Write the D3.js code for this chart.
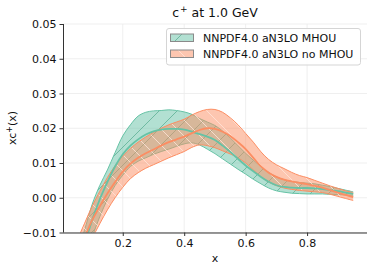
<!DOCTYPE html>
<html><head><meta charset="utf-8">
<script src="https://cdn.jsdelivr.net/npm/d3@7"></script>
<style>body{margin:0;background:#fff} svg{display:block;font-family:"DejaVu Sans",sans-serif}</style>
</head><body><svg id="c" width="374" height="272"></svg>
<script>
const xs = [0.05,0.075,0.10,0.125,0.15,0.175,0.20,0.225,0.25,0.275,0.30,0.325,0.35,0.375,0.40,0.425,0.45,0.475,0.50,0.525,0.55,0.575,0.60,0.625,0.65,0.675,0.70,0.725,0.75,0.775,0.80,0.825,0.85,0.875,0.90,0.925,0.95];
const mhouCentral = [-0.0200,-0.0135,-0.0065,-0.0005,0.0045,0.0090,0.0125,0.0150,0.0168,0.0182,0.0191,0.0196,0.0198,0.0198,0.0196,0.0190,0.0183,0.0176,0.0166,0.0150,0.0132,0.0112,0.0093,0.0076,0.0060,0.0046,0.0036,0.0031,0.0029,0.0028,0.0028,0.0027,0.0025,0.0022,0.0019,0.0015,0.0011];
const mhouLower = [-0.0260,-0.0190,-0.0115,-0.0055,-0.0005,0.0035,0.0065,0.0090,0.0105,0.0115,0.0125,0.0133,0.0140,0.0148,0.0155,0.0158,0.0152,0.0140,0.0127,0.0112,0.0097,0.0082,0.0068,0.0053,0.0040,0.0028,0.0020,0.0016,0.0013,0.0012,0.0011,0.0011,0.0011,0.0010,0.0009,0.0008,0.0005];
const mhouUpper = [-0.0160,-0.0095,-0.0020,0.0035,0.0080,0.0130,0.0178,0.0210,0.0235,0.0246,0.0250,0.0251,0.0253,0.0251,0.0247,0.0240,0.0228,0.0218,0.0208,0.0192,0.0172,0.0150,0.0128,0.0108,0.0090,0.0073,0.0060,0.0052,0.0047,0.0044,0.0042,0.0040,0.0036,0.0032,0.0027,0.0022,0.0017];
const noMhouCentral = [-0.0160,-0.0115,-0.0065,-0.0025,0.0012,0.0045,0.0075,0.0098,0.0115,0.0128,0.0139,0.0150,0.0160,0.0168,0.0176,0.0186,0.0195,0.0200,0.0198,0.0190,0.0178,0.0160,0.0140,0.0115,0.0090,0.0072,0.0060,0.0052,0.0047,0.0043,0.0039,0.0034,0.0029,0.0022,0.0015,0.0008,0.0002];
const noMhouLower = [-0.0210,-0.0165,-0.0118,-0.0075,-0.0035,0.0000,0.0030,0.0055,0.0072,0.0085,0.0095,0.0105,0.0115,0.0124,0.0133,0.0145,0.0152,0.0150,0.0144,0.0135,0.0126,0.0115,0.0100,0.0080,0.0060,0.0045,0.0035,0.0028,0.0024,0.0021,0.0019,0.0017,0.0015,0.0010,0.0004,-0.0002,-0.0008];
const noMhouUpper = [-0.0125,-0.0075,-0.0025,0.0018,0.0058,0.0092,0.0120,0.0142,0.0160,0.0175,0.0188,0.0200,0.0210,0.0218,0.0226,0.0238,0.0248,0.0254,0.0254,0.0246,0.0230,0.0210,0.0185,0.0160,0.0132,0.0110,0.0095,0.0084,0.0073,0.0064,0.0058,0.0050,0.0042,0.0034,0.0027,0.0020,0.0015];
const xTicks = [0.2,0.4,0.6,0.8];
const yTicks = [-0.01,0.00,0.01,0.02,0.03,0.04,0.05];
const legendLabels = ["NNPDF4.0 aN3LO MHOU","NNPDF4.0 aN3LO no MHOU"];

const teal = "#66c2a5", orange = "#fc8d62";
const svg = d3.select("#c");
const x = d3.scaleLinear().domain([0.0055,0.995]).range([63,367]);
const y = d3.scaleLinear().domain([-0.01,0.05]).range([232.5,24]);

const defs = svg.append("defs");
defs.append("clipPath").attr("id","clip").append("rect").attr("x",63).attr("y",24).attr("width",304).attr("height",208.5);
const pT = defs.append("pattern").attr("id","hT").attr("patternUnits","userSpaceOnUse").attr("width",18).attr("height",18);
pT.append("path").attr("d","M-1,1 l2,-2 M0,18 l18,-18 M17,19 l2,-2").attr("stroke","#4fa88b").attr("stroke-width",0.8).attr("stroke-opacity",0.85);
const pO = defs.append("pattern").attr("id","hO").attr("patternUnits","userSpaceOnUse").attr("width",16).attr("height",16);
pO.append("path").attr("d","M-1,15 l2,2 M0,0 l16,16 M15,-1 l2,2").attr("stroke","#ffe6da").attr("stroke-width",0.9).attr("stroke-opacity",0.85);

// grid
const grid = svg.append("g").attr("stroke","#ebebeb").attr("stroke-width",0.8);
xTicks.forEach(t=>grid.append("line").attr("x1",x(t)).attr("x2",x(t)).attr("y1",24).attr("y2",232.5));
yTicks.forEach(t=>grid.append("line").attr("x1",63).attr("x2",367).attr("y1",y(t)).attr("y2",y(t)));

const plot = svg.append("g").attr("clip-path","url(#clip)");
const idx = d3.range(xs.length);
const curve = d3.curveCatmullRom;
function band(lo, hi, col, pat){
  const area = d3.area().x(i=>x(xs[i])).y0(i=>y(lo[i])).y1(i=>y(hi[i])).curve(curve);
  plot.append("path").attr("d",area(idx)).attr("fill",col).attr("fill-opacity",0.5);
  plot.append("path").attr("d",area(idx)).attr("fill","url(#"+pat+")");
  const l = d3.line().x(i=>x(xs[i])).curve(curve);
  plot.append("path").attr("d",l.y(i=>y(lo[i]))(idx)).attr("fill","none").attr("stroke",col).attr("stroke-width",1);
  plot.append("path").attr("d",l.y(i=>y(hi[i]))(idx)).attr("fill","none").attr("stroke",col).attr("stroke-width",1);
}
band(mhouLower, mhouUpper, teal, "hT");
band(noMhouLower, noMhouUpper, orange, "hO");
const cl = d3.line().x(i=>x(xs[i])).curve(curve);
plot.append("path").attr("d",cl.y(i=>y(mhouCentral[i]))(idx)).attr("fill","none").attr("stroke",teal).attr("stroke-width",1.8);
plot.append("path").attr("d",cl.y(i=>y(noMhouCentral[i]))(idx)).attr("fill","none").attr("stroke",orange).attr("stroke-width",1.8);

// axes
const xAxis = svg.append("g").attr("transform","translate(0,232.5)")
  .call(d3.axisBottom(x).tickValues(xTicks).tickFormat(d3.format(".1f")).tickSize(3.5).tickPadding(3));
const yAxis = svg.append("g").attr("transform","translate(63,0)")
  .call(d3.axisLeft(y).tickValues(yTicks).tickFormat(d=>d3.format(".2f")(d).replace("-","\u2212")).tickSize(3.5).tickPadding(3));
[xAxis,yAxis].forEach(a=>{
  a.select(".domain").attr("stroke","#333").attr("stroke-width",1);
  a.selectAll(".tick line").attr("stroke","#333");
  a.selectAll("text").attr("font-size",11).attr("fill","#111").attr("font-family","DejaVu Sans");
});
xAxis.select(".domain").attr("d","M63,0.5H367");
yAxis.select(".domain").attr("d","M0.5,24V232.5");

// title
const tt = svg.append("text").attr("x",215).attr("y",17).attr("text-anchor","middle").attr("font-size",12.5).attr("fill","#111");
tt.append("tspan").text("c");
tt.append("tspan").attr("dx",1).attr("dy",-5).attr("font-size",9).text("+");
tt.append("tspan").attr("dy",5).text("  at 1.0 GeV");

// labels
svg.append("text").attr("x",215).attr("y",262).attr("text-anchor","middle").attr("font-size",11).attr("fill","#111").text("x");
const yl = svg.append("text").attr("transform","translate(16,128) rotate(-90)").attr("text-anchor","middle").attr("font-size",11).attr("fill","#111");
yl.append("tspan").text("xc");
yl.append("tspan").attr("dy",-4).attr("font-size",8).text("+");
yl.append("tspan").attr("dy",4).text("(x)");

// legend
const lg = svg.append("g");
lg.append("rect").attr("x",166.5).attr("y",28.5).attr("width",194).attr("height",36.5).attr("rx",2.5)
  .attr("fill","#fff").attr("fill-opacity",0.85).attr("stroke","#d5d5d5").attr("stroke-width",1);
const cols = [teal, orange], pats = ["hT","hO"];
legendLabels.forEach((lab,i)=>{
  const yy = 34 + i*16;
  lg.append("rect").attr("x",170.5).attr("y",yy).attr("width",23).attr("height",7.5).attr("fill",cols[i]).attr("fill-opacity",0.5);
  lg.append("rect").attr("x",170.5).attr("y",yy).attr("width",23).attr("height",7.5).attr("fill","url(#"+pats[i]+")").attr("stroke","#8a8a8a").attr("stroke-width",1);
  lg.append("text").attr("x",203).attr("y",yy+8).attr("font-size",11).attr("fill","#111").text(lab);
});
</script></body></html>
